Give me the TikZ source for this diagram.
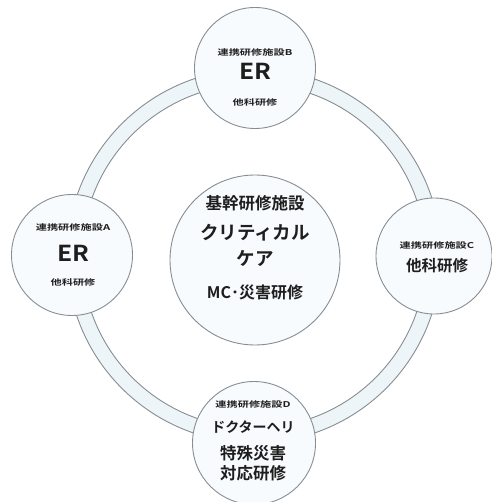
\documentclass[tikz,border=0pt]{standalone}
\usepackage{fontspec}
\usepackage{graphicx}
\newfontfamily\jp{Noto Sans CJK JP Bold}
\definecolor{ringfill}{HTML}{EDF5F9}
\definecolor{circfill}{HTML}{F8FBFD}
\definecolor{edge}{HTML}{868E94}
\definecolor{ink}{HTML}{1E1E1E}
\newcommand{\smalltxt}[1]{\scalebox{1.4}[1]{\fontsize{8}{8}\selectfont #1}}
\newcommand{\ertxt}{\scalebox{1.12}[1]{\fontsize{22}{22}\selectfont ER}}
\tikzset{
  hub/.style={circle, draw=edge, fill=circfill, line width=0.9pt, inner sep=0pt},
  lbl/.style={inner sep=0pt, text=ink, font=\jp, align=center},
}
\begin{document}
\begin{tikzpicture}[x=1pt,y=-1pt]
\useasboundingbox (0,0) rectangle (491,502);
\fill[white] (0,0) rectangle (491,502);
% ring
\coordinate (rc) at (254,256);
\fill[ringfill, even odd rule] (rc) circle[radius=187] (rc) circle[radius=172];
\draw[edge, line width=0.9pt] (rc) circle[radius=187];
\draw[edge, line width=0.9pt] (rc) circle[radius=172];
% circles
\node[hub, minimum size=170pt] (m) at (255,260) {};
\node[hub, minimum size=121pt] (b) at (255,68) {};
\node[hub, minimum size=121pt] (a) at (72,255) {};
\node[hub, minimum size=116pt] (c) at (434,256) {};
\node[hub, minimum size=123pt] (d) at (254,443) {};
% B
\node[lbl] (b1) at (255,52) {\smalltxt{連携研修施設B}};
\node[lbl] (b2) at (255,71) {\ertxt};
\node[lbl] (b3) at (255,102) {\smalltxt{他科研修}};
% A
\node[lbl] (a1) at (73,227) {\smalltxt{連携研修施設A}};
\node[lbl] (a2) at (73,253) {\ertxt};
\node[lbl] (a3) at (73,282) {\smalltxt{他科研修}};
% C
\node[lbl] (c1) at (437,245) {\smalltxt{連携研修施設C}};
\node[lbl] (c2) at (437,266) {\fontsize{15.5}{16}\selectfont 他科研修};
% D
\node[lbl] (d1) at (253,404) {\smalltxt{連携研修施設D}};
\node[lbl] (d2) at (253,427) {\fontsize{14}{14}\selectfont ドクターヘリ};
\node[lbl] (d3) at (253,453) {\fontsize{16.5}{17}\selectfont 特殊災害};
\node[lbl] (d4) at (253,473) {\fontsize{16.5}{17}\selectfont 対応研修};
% center
\node[lbl] (m1) at (255,203) {\fontsize{16.5}{17}\selectfont 基幹研修施設};
\node[lbl] (m2) at (255,233) {\fontsize{18.5}{19}\selectfont クリティカル};
\node[lbl] (m3) at (255,258) {\fontsize{18.5}{19}\selectfont ケア};
\node[lbl] (m4) at (255,292) {\fontsize{16}{16}\selectfont MC･災害研修};
\end{tikzpicture}
\end{document}
